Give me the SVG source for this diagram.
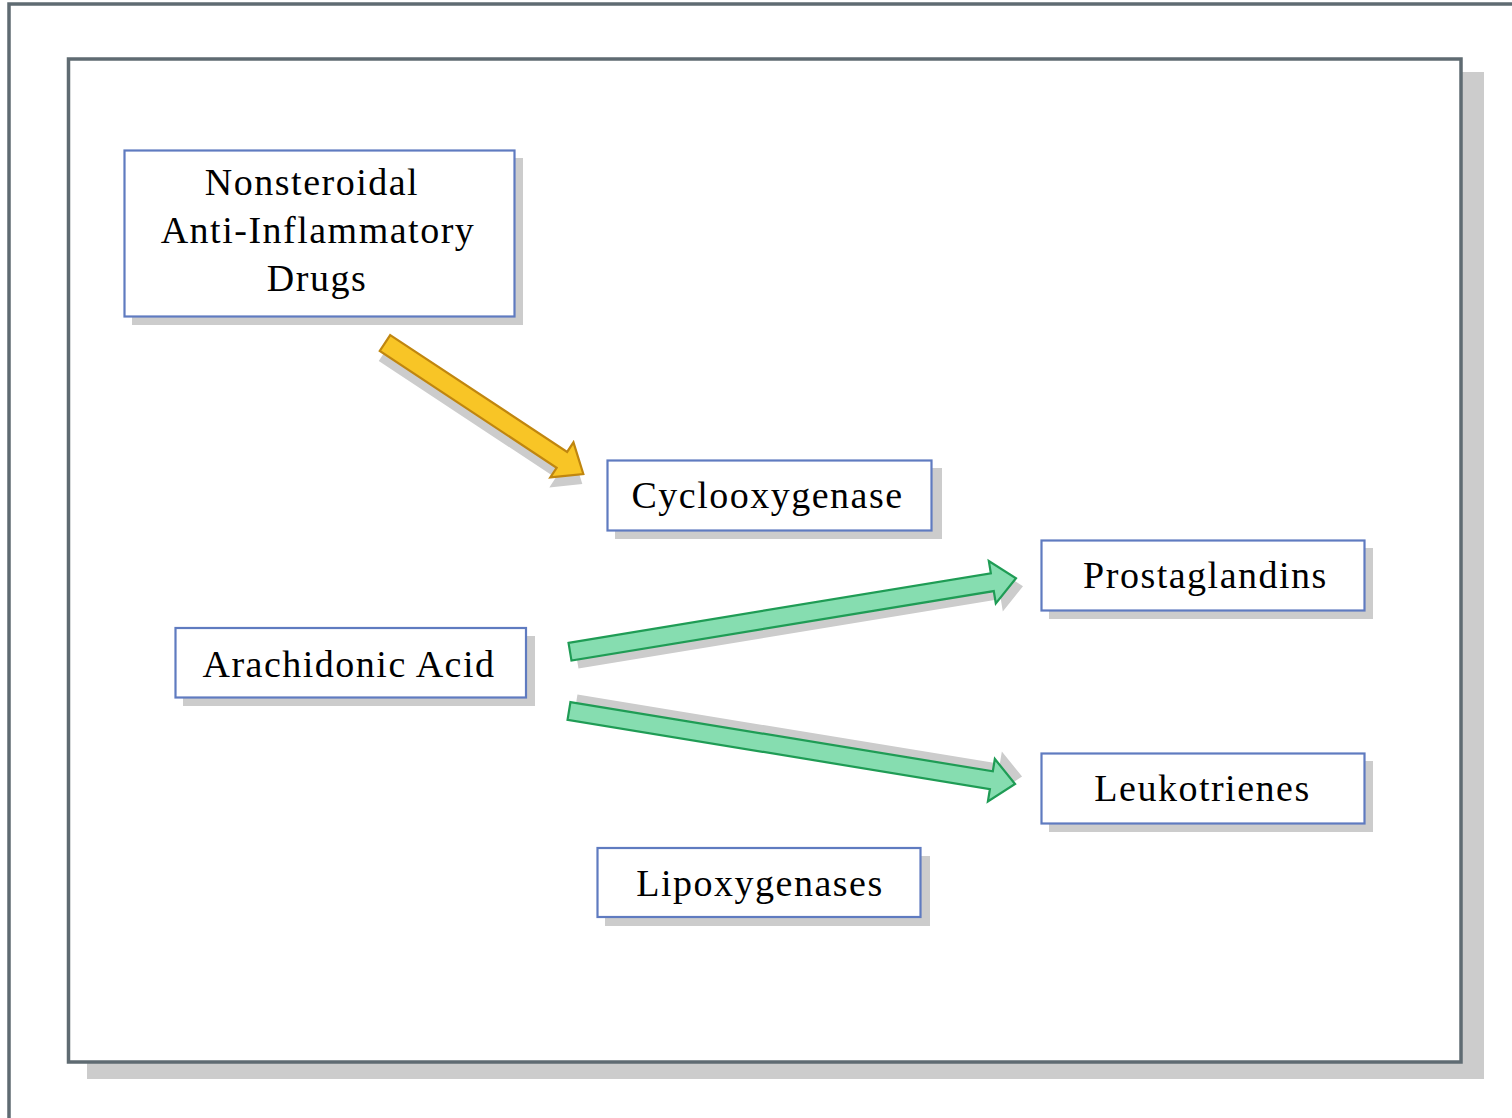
<svg xmlns="http://www.w3.org/2000/svg" width="1512" height="1118" viewBox="0 0 1512 1118">
<style>
.frame{fill:#ffffff;stroke:#5f6b72;stroke-width:3.5}
.shadow{fill:#cccccc;stroke:none}
.box{fill:#ffffff;stroke:#5f7bc0;stroke-width:2.2}
.lbl{font-family:"Liberation Serif","Times New Roman",serif;font-size:38px;letter-spacing:1.5px;fill:#000000;text-anchor:middle}
.ay{fill:#f8c526;stroke:#c0860f;stroke-width:2.2;stroke-linejoin:miter}
.ag{fill:#86ddb0;stroke:#1f9c55;stroke-width:2.2;stroke-linejoin:miter}
</style>
<defs>
<path id="arrowY" d="M0,-9.5 L212,-9.5 L212,-21 L237.7,0 L212,21 L212,9.5 L0,9.5 Z"/>
<path id="arrowG" d="M0,-9 L428,-9 L428,-21.5 L452,0 L428,21.5 L428,9 L0,9 Z"/>
</defs>
<rect width="1512" height="1118" fill="#ffffff"/>
<rect x="9" y="4" width="1600" height="1200" fill="none" stroke="#5f6b72" stroke-width="3.5"/>
<rect class="shadow" x="87" y="72" width="1397" height="1007"/>
<rect class="frame" x="68.5" y="59" width="1392.5" height="1003"/>

<g id="connectors">
  <use href="#arrowY" class="shadow" transform="translate(384,353) rotate(33.45)"/>
  <use href="#arrowY" class="ay" transform="translate(385,343) rotate(33.45)"/>
  <use href="#arrowG" class="shadow" transform="translate(577,659.7) rotate(-9.35)"/>
  <use href="#arrowG" class="ag" transform="translate(570,651.7) rotate(-9.35)"/>
  <use href="#arrowG" class="shadow" transform="translate(576,703.5) rotate(9.3)"/>
  <use href="#arrowG" class="ag" transform="translate(569,711) rotate(9.3)"/>
</g>

<g id="node-nsaid">
  <rect class="shadow" x="132" y="158" width="391" height="167"/>
  <rect class="box" x="124.5" y="150.5" width="390" height="166"/>
  <text class="lbl" x="312" y="195">Nonsteroidal</text>
  <text class="lbl" x="318" y="243">Anti-Inflammatory</text>
  <text class="lbl" x="317" y="291">Drugs</text>
</g>
<g id="node-cox">
  <rect class="shadow" x="615" y="468" width="327" height="71"/>
  <rect class="box" x="607.5" y="460.5" width="324" height="70"/>
  <text class="lbl" x="767.5" y="508">Cyclooxygenase</text>
</g>
<g id="node-prostaglandins">
  <rect class="shadow" x="1049" y="548" width="324" height="71"/>
  <rect class="box" x="1041.5" y="540.5" width="323" height="70"/>
  <text class="lbl" x="1205.5" y="588">Prostaglandins</text>
</g>
<g id="node-arachidonic">
  <rect class="shadow" x="183" y="636" width="352" height="70"/>
  <rect class="box" x="175.5" y="628" width="350.5" height="69.5"/>
  <text class="lbl" x="349" y="677">Arachidonic Acid</text>
</g>
<g id="node-leukotrienes">
  <rect class="shadow" x="1049" y="761" width="324" height="71"/>
  <rect class="box" x="1041.5" y="753.5" width="323" height="70"/>
  <text class="lbl" x="1202.5" y="801">Leukotrienes</text>
</g>
<g id="node-lipoxygenases">
  <rect class="shadow" x="605" y="856" width="325" height="70"/>
  <rect class="box" x="597.5" y="848" width="323" height="69"/>
  <text class="lbl" x="760" y="896">Lipoxygenases</text>
</g>
</svg>
